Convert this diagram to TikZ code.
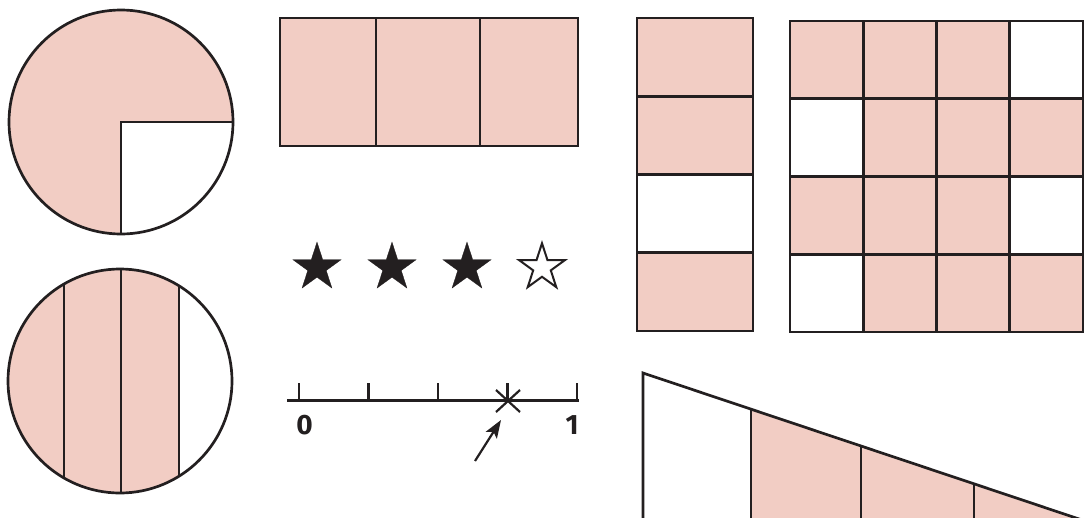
\documentclass[tikz,border=0pt]{standalone}
\usepackage{fontspec}
\setsansfont{Fira Sans}
\usetikzlibrary{arrows.meta,positioning,shapes.geometric,calc}
\definecolor{piece}{HTML}{F2CDC4}
\definecolor{ink}{HTML}{231F20}

\begin{document}
\begin{tikzpicture}[
  x=1pt, y=-1pt,
  edge/.style={draw=ink, line width=2.7pt},
  part/.style={edge, fill=piece},
  blank/.style={edge, fill=white},
  fullstar/.style={star, star points=5, star point ratio=2.618, minimum size=50.8pt,
                   inner sep=0pt, fill=ink, draw=ink, line width=0.3pt},
  openstar/.style={fullstar, minimum size=48.5pt, fill=white, line width=2pt},
  axis/.style={draw=ink, line width=2.2pt},
  digit/.style={font=\fontsize{28}{30}\selectfont\sffamily\bfseries, text=ink, inner sep=0pt},
  arr/.style={-{Stealth[length=18pt, width=13pt, inset=4pt]}, draw=ink, line width=2.2pt},
]
  \useasboundingbox (0,0) rectangle (1087,517);

  % circle with one quarter left out
  \coordinate (quarterc) at (121,122);
  \fill[piece] (quarterc) circle (112);
  \fill[white] (quarterc) -- ++(112,0) arc[start angle=0, end angle=90, radius=112] -- cycle;
  \draw[edge] (quarterc) circle (112);
  \draw[edge] ($(quarterc)+(113,0)$) -- (quarterc) -- ++(0,113);

  % circle cut in vertical strips
  \coordinate (stripc) at (120,381);
  \begin{scope}
    \clip (stripc) circle (112);
    \fill[piece] (0,260) rectangle (179,500);
    \foreach \xs in {64,121,179}
      \draw[edge] (\xs,260) -- (\xs,500);
  \end{scope}
  \draw[edge] (stripc) circle (112);

  % wide bar of three
  \draw[part] (280,18) rectangle (578,146);
  \foreach \xs in {376,480}
    \draw[edge] (\xs,18) -- (\xs,146);

  % stars
  \node[fullstar] (star1) at (317,267.5) {};
  \node[fullstar] (star2) at (392,267.5) {};
  \node[fullstar] (star3) at (467,267.5) {};
  \node[openstar] (star4) at (542,267.5) {};

  % number line
  \draw[axis] (287,400.5) -- (578.5,400.5);
  \foreach \i in {0,...,4}
    \draw[axis] (299+69.5*\i,383) -- (299+69.5*\i,400.5);
  \node[digit] (zero) at (304.5,425) {0};
  \node[digit] (one) at (572,425) {1};
  \coordinate (mark) at (508,401);
  \draw[axis] ($(mark)+(-12,-11)$) -- ($(mark)+(12,11)$);
  \draw[axis] ($(mark)+(-12,11)$) -- ($(mark)+(12,-11)$);
  \coordinate (arrfoot) at (475,461);
  \coordinate (arrhead) at (501,420);
  \draw[arr] (arrfoot) -- (arrhead);

  % tall bar of four
  \foreach \k/\f in {0/part,1/part,2/blank,3/part}
    \draw[\f] (637,18+78.25*\k) rectangle (753,18+78.25*\k+78.25);

  % four by four grid
  \foreach \r/\row in {0/{1,1,1,0},1/{0,1,1,1},2/{1,1,1,0},3/{0,1,1,1}}
    \foreach \v [count=\c from 0] in \row {
      \ifnum\v=1
        \draw[part] (790+73.25*\c,21+77.75*\r) rectangle ++(73.25,77.75);
      \else
        \draw[blank] (790+73.25*\c,21+77.75*\r) rectangle ++(73.25,77.75);
      \fi
    }

  % triangle running off the page
  \begin{scope}
    \clip (0,0) rectangle (1087,517);
    \coordinate (apex) at (643,373);
    \coordinate (farend) at (1100,526);
    \fill[piece] (751,409.2) -- (farend) -- (1100,530) -- (751,530) -- cycle;
    \draw[edge] (643,530) -- (apex) -- (farend);
    \foreach \xs/\ys in {751/409.2,861/446,974/483.8}
      \draw[edge] (\xs,\ys) -- (\xs,530);
  \end{scope}
\end{tikzpicture}
\end{document}
